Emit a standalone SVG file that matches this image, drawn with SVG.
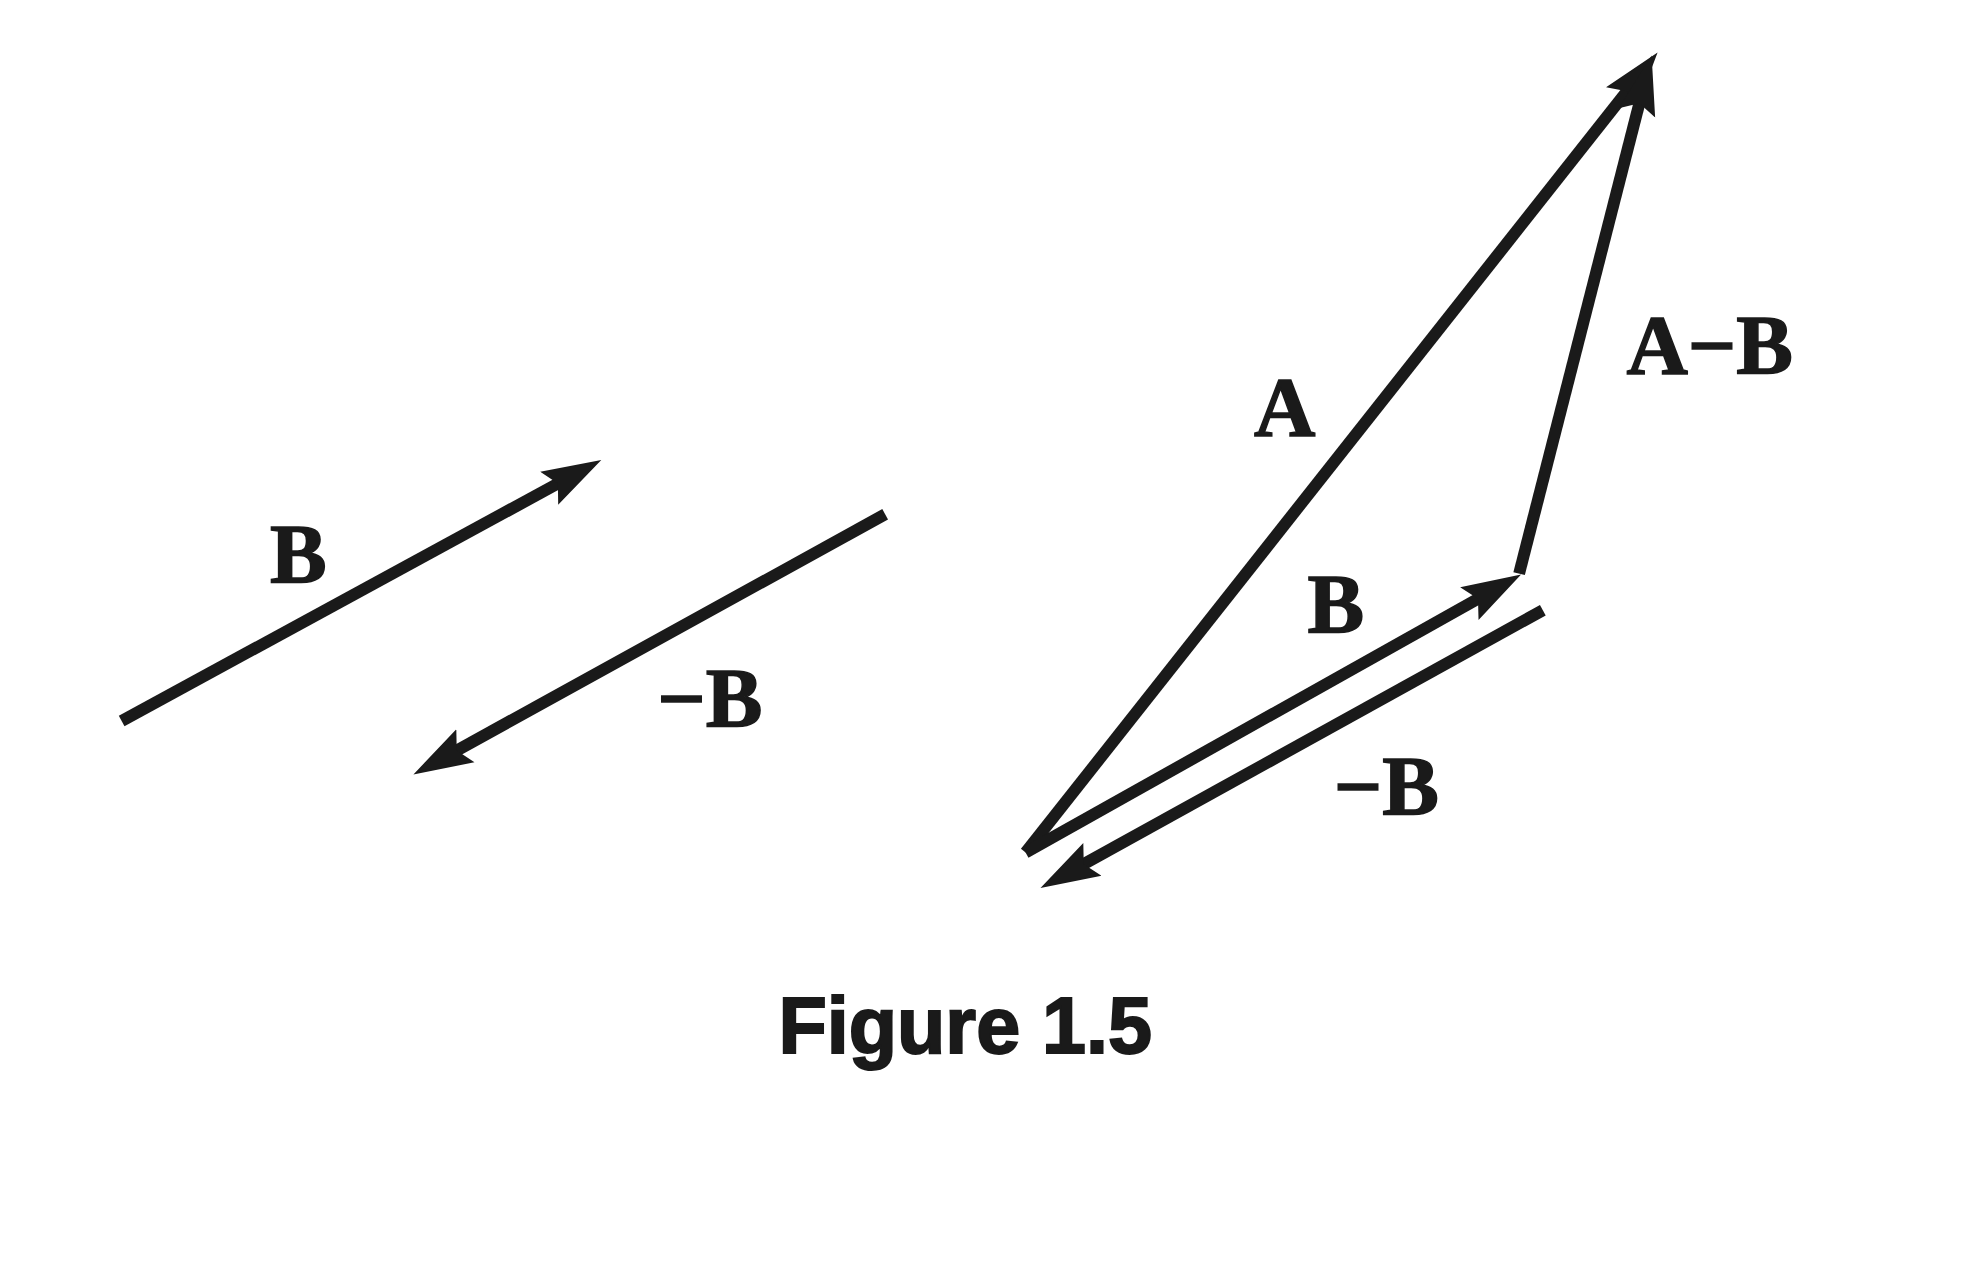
<svg xmlns="http://www.w3.org/2000/svg" width="1965" height="1263" viewBox="0 0 1965 1263">
<style>
.vec{stroke:#1a1a1a;stroke-width:12;fill:none;stroke-linecap:butt;marker-end:url(#head)}
.lbl{font-family:"Liberation Serif","Times New Roman",serif;font-weight:bold;font-size:86px;fill:#1a1a1a;stroke:#1a1a1a;stroke-width:1.5}
.cap{font-family:"Liberation Sans",Arial,sans-serif;font-weight:bold;font-size:80px;fill:#1a1a1a;stroke:#1a1a1a;stroke-width:2}
</style>
<defs>
<marker id="head" viewBox="0 0 60 40" markerWidth="60" markerHeight="40" markerUnits="userSpaceOnUse" refX="14" refY="20" orient="auto">
<path d="M0,1 L60,20 L0,39 L10,20 z" fill="#1a1a1a"/>
</marker>
</defs>
<rect width="1965" height="1263" fill="#ffffff"/>
<g transform="scale(0.989)">
<g id="connectors">
<line id="vB1" class="vec" x1="123" y1="729" x2="567.6" y2="487"/>
<line id="vnB1" class="vec" x1="895" y1="520" x2="458.3" y2="760.8"/>
<line id="vA" class="vec" x1="1037" y1="862" x2="1647.5" y2="89.1"/>
<line id="vB2" class="vec" x1="1037" y1="862" x2="1497.9" y2="603.5"/>
<line id="vAmB" class="vec" x1="1536" y1="580" x2="1658.6" y2="100.6"/>
<line id="vnB2" class="vec" x1="1560" y1="617" x2="1092.3" y2="875.7"/>
</g>
<g id="label-B1"><text class="lbl" x="273" y="589">B</text></g>
<g id="label-nB1"><text class="lbl" x="771" y="735" text-anchor="end">−B</text></g>
<g id="label-A"><text class="lbl" x="1268" y="441">A</text></g>
<g id="label-AmB"><text class="lbl" x="1813" y="378" text-anchor="end">A−B</text></g>
<g id="label-B2"><text class="lbl" x="1322" y="640">B</text></g>
<g id="label-nB2"><text class="lbl" x="1455" y="824" text-anchor="end">−B</text></g>
<g id="caption"><text class="cap" x="976" y="1065" text-anchor="middle">Figure 1.5</text></g>
</g>
</svg>
